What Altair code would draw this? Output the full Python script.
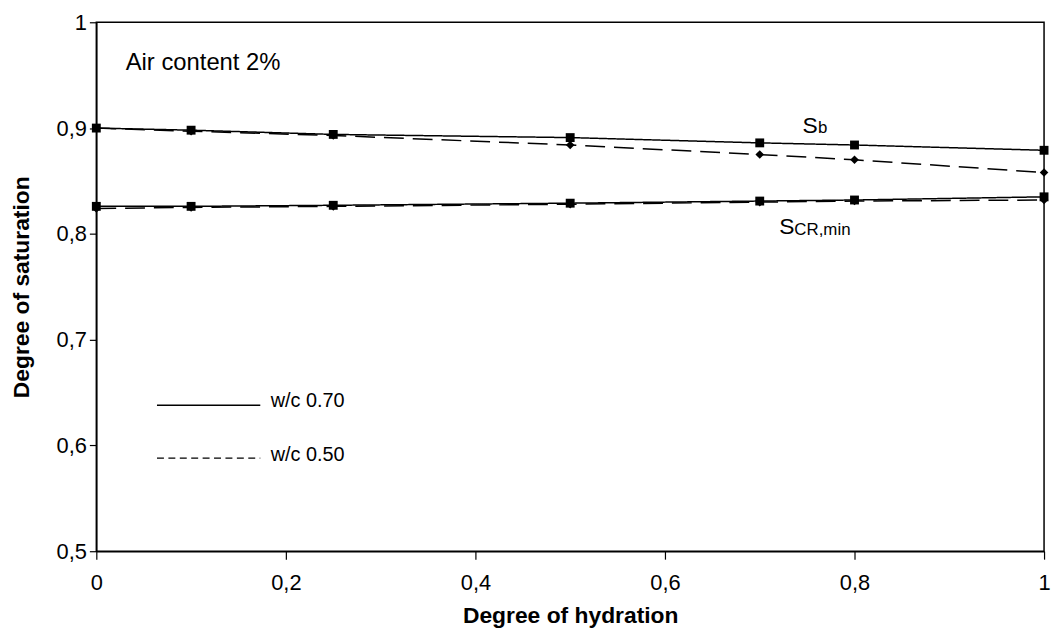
import altair as alt
import pandas as pd

# ---- data ----
hydration = [0.0, 0.1, 0.25, 0.5, 0.7, 0.8, 1.0]
sb_wc070 = [0.900, 0.898, 0.894, 0.891, 0.886, 0.884, 0.879]
sb_wc050 = [0.900, 0.897, 0.893, 0.884, 0.875, 0.870, 0.858]
scr_wc070 = [0.826, 0.826, 0.827, 0.829, 0.831, 0.832, 0.835]
scr_wc050 = [0.824, 0.825, 0.826, 0.828, 0.830, 0.831, 0.832]

x_ticks = [0, 0.2, 0.4, 0.6, 0.8, 1.0]
y_ticks = [0.5, 0.6, 0.7, 0.8, 0.9, 1.0]

series_names = ["w/c 0.70", "w/c 0.50"]

rows = []
for curve, vals in [("Sb", sb_wc070), ("SCR", scr_wc070)]:
    for h, v in zip(hydration, vals):
        rows.append({"h": h, "s": v, "wc": "w/c 0.70", "curve": curve})
for curve, vals in [("Sb", sb_wc050), ("SCR", scr_wc050)]:
    for h, v in zip(hydration, vals):
        rows.append({"h": h, "s": v, "wc": "w/c 0.50", "curve": curve})
df = pd.DataFrame(rows)

FONT = "Liberation Sans"

xs = alt.Scale(domain=[0, 1], nice=False, zero=False)
ys = alt.Scale(domain=[0.5, 1], nice=False, zero=False)

lbl = "replace(format(datum.value, '~g'), '.', ',')"

x_enc = alt.X("h:Q", scale=xs, axis=alt.Axis(
    values=x_ticks, title="Degree of hydration", labelExpr=lbl,
    tickSize=8, labelPadding=14, titlePadding=11, labelFlush=False,
    labelFontSize=22, titleFontSize=23, titleFontWeight="bold",
    labelFont=FONT, titleFont=FONT, grid=False,
    domainColor="black", tickColor="black", labelColor="black", titleColor="black",
    domainWidth=1.5, tickWidth=1.2))
y_enc = alt.Y("s:Q", scale=ys, axis=alt.Axis(
    values=y_ticks, title="Degree of saturation", labelExpr=lbl,
    tickSize=7, labelPadding=3, titlePadding=23,
    labelFontSize=22, titleFontSize=23, titleFontWeight="bold",
    labelFont=FONT, titleFont=FONT, grid=False,
    domainColor="black", tickColor="black", labelColor="black", titleColor="black",
    domainWidth=1.5, tickWidth=1.2))

dash_scale = alt.Scale(domain=series_names, range=[[1, 0], [20, 9]])
shape_scale = alt.Scale(domain=series_names, range=["square", "diamond"])
size_scale = alt.Scale(domain=series_names, range=[80, 75])

lines = alt.Chart(df).mark_line(color="black", strokeWidth=1.5).encode(
    x=x_enc, y=y_enc,
    strokeDash=alt.StrokeDash("wc:N", scale=dash_scale, legend=None),
    detail="curve:N",
)
points = alt.Chart(df).mark_point(filled=True, color="black", opacity=1).encode(
    x="h:Q", y="s:Q",
    shape=alt.Shape("wc:N", scale=shape_scale, legend=None),
    size=alt.Size("wc:N", scale=size_scale, legend=None),
)

# ---- manual legend inside the plot ----
legend_df = pd.DataFrame({
    "wc": series_names,
    "x0": [0.064, 0.064],
    "x1": [0.173, 0.173],
    "y": [0.638, 0.588],
    "tx": [0.184, 0.184],
    "ty": [0.642, 0.591],
})
leg_solid = alt.Chart(legend_df.iloc[:1]).mark_rule(color="black", strokeWidth=1.5).encode(
    x="x0:Q", x2="x1:Q", y="y:Q")
leg_dashed = alt.Chart(legend_df.iloc[1:]).mark_rule(
    color="black", strokeWidth=1.5, strokeDash=[7, 4.5]).encode(
    x="x0:Q", x2="x1:Q", y="y:Q")
leg_text = alt.Chart(legend_df).mark_text(
    align="left", baseline="middle", fontSize=20, font=FONT, color="black"
).encode(x="tx:Q", y="ty:Q", text="wc:N")

# ---- annotations ----
ann_big = pd.DataFrame({"x": [0.031, 0.745, 0.7207], "y": [0.9615, 0.8952, 0.8002],
                        "t": ["Air content 2%", "S", "S"]})
ann_sub = pd.DataFrame({"x": [0.7615, 0.7365], "y": [0.8952, 0.799],
                        "t": ["b", "CR,min"]})
air = alt.Chart(ann_big.iloc[:1]).mark_text(
    align="left", baseline="middle", font=FONT, color="black", fontSize=24
).encode(x="x:Q", y="y:Q", text="t:N")
s_letters = alt.Chart(ann_big.iloc[1:]).mark_text(
    align="left", baseline="alphabetic", font=FONT, color="black", fontSize=23
).encode(x="x:Q", y="y:Q", text="t:N")
sub_text = alt.Chart(ann_sub).mark_text(
    align="left", baseline="alphabetic", font=FONT, color="black", fontSize=17
).encode(x="x:Q", y="y:Q", text="t:N")

chart = alt.layer(lines, points, leg_solid, leg_dashed, leg_text, air, s_letters, sub_text).properties(
    width=955, height=533,
    autosize=alt.AutoSizeParams(type="none"),
    padding={"left": 89, "top": 12, "right": 7, "bottom": 78},
    background="white",
).configure_view(stroke="black", strokeWidth=1.5)

chart.save("out.html", embed_options={"renderer": "svg", "actions": False})
